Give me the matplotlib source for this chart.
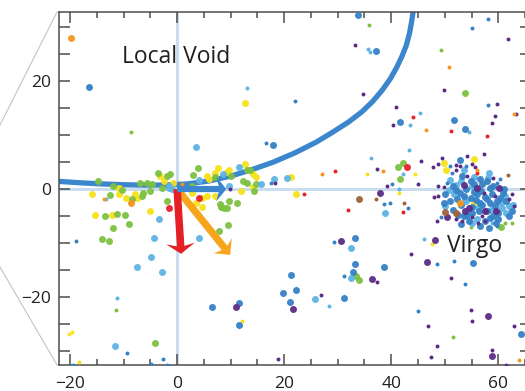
import matplotlib
matplotlib.use('Agg')
import matplotlib.pyplot as plt
from matplotlib.patches import FancyArrow
from matplotlib.lines import Line2D
from matplotlib.ticker import MultipleLocator

plt.rcParams['font.family'] = ['Open Sans', 'DejaVu Sans']

# galaxies (supergalactic x, y in Mpc), grouped by colour and marker size
yellow_big = [(12.7, 15.9), (49.9, 4.9), (50.3, 3.5), (55.4, 5.5), (55.4, -2.5),
              (-10.8, 0.2), (-3.2, 2.5), (-2.4, 1.4), (-0.7, 1.2), (-7.9, -0.9), (-7.5, -1.7),
              (-9.5, -1.7), (-10.8, -1.0), (-15.9, -1.0), (-5.0, -4.1), (-15.3, -4.8), (-12.2, -4.8),
              (5.6, 2.4), (7.7, 3.9), (7.0, 2.9), (9.3, 3.2), (9.7, 3.6), (12.6, 4.6), (14.1, 2.7),
              (14.8, 2.2), (14.1, 0.4), (21.3, 2.3), (22.2, -1.0), (12.0, -0.4), (7.1, -1.3),
              (5.6, -1.3), (4.6, -1.6), (3.5, -2.5), (4.6, -3.3), (2.7, -0.7), (5.9, 1.8)]
yellow_small = [(35.4, 2.7), (44.5, 2.8), (57.6, 1.2), (41.4, -0.8), (47.7, -10.1), (12.2, -24.4),
                (-20.1, -26.9), (-19.6, -26.5), (-18.3, -32.0)]

green_big = [(53.8, 17.8), (42.1, 4.9), (41.2, 4.1), (41.7, 1.9), (60.5, -7.0),
             (-14.7, 1.5), (-11.9, 0.6), (-10.2, -0.1), (-6.9, 1.1), (-5.7, 1.2), (-4.7, 0.9),
             (-3.5, 3.0), (-1.9, 2.4), (-1.3, 2.7), (-2.9, 0.2), (-5.0, -0.4), (-6.3, -0.7),
             (-6.5, -1.3), (-8.4, -1.9), (-12.5, -1.1), (-1.8, -2.3), (-13.5, -5.0), (-11.2, -4.7),
             (-9.7, -4.8), (-9.0, -6.4), (-11.9, -7.2), (-14.0, -9.3), (-12.7, -9.6), (-4.1, -28.5),
             (3.9, 3.9), (3.0, 2.6), (7.1, 2.2), (10.1, 2.5), (13.0, 3.5), (13.6, 3.6), (12.4, 1.5),
             (13.0, 1.2), (14.8, 0.9), (14.3, -0.4), (11.2, -2.5), (9.6, -2.2), (8.0, -2.8),
             (8.7, -3.5), (9.3, -3.5), (8.2, -3.3), (2.7, 0.6), (9.5, -6.7), (7.9, -7.8),
             (33.5, -16.2), (34.0, -16.8)]
green_small = [(-8.7, 10.6), (35.9, 30.4), (49.3, 25.7), (61.3, -6.2), (62.6, -6.2), (54.8, -7.0),
               (-11.5, -22.5), (51.5, -27.4)]

lightblue_big = [(58.3, 2.9), (55.4, 2.2), (51.0, 1.7), (50.7, -0.2), (53.8, -1.9), (50.1, -3.1),
                 (61.3, -1.3), (60.7, -3.5), (61.9, -3.1), (55.1, -6.2), (62.7, -3.0), (38.9, -4.5),
                 (32.4, -10.9), (52.0, 0.8), (58.0, 2.0), (56.0, -5.5), (60.5, -2.5), (54.0, -2.2),
                 (53.0, 1.5), (51.8, -1.0), (56.2, -3.5), (58.7, -3.8), (55.0, 0.5), (61.5, -4.5),
                 (53.5, 3.5),
                 (-1.6, 0.6), (-1.6, 0.2), (-1.0, 0.1), (-3.4, -5.6), (-4.4, -9.0),
                 (-4.9, -12.6), (-7.5, -14.4), (-2.9, -15.4), (-11.6, -29.1), (3.6, 7.8), (8.5, 2.7),
                 (11.6, 4.1), (15.7, 1.0), (18.1, 1.8), (20.5, 2.0), (9.6, 0.6), (4.0, 1.6),
                 (4.1, -9.0), (25.7, -20.4), (32.4, -16.5)]
lightblue_small = [(13.0, 18.8), (35.6, 25.9), (36.1, 25.3), (45.4, 14.0), (43.5, 11.8), (54.5, 10.6),
                   (43.4, 7.3), (36.2, 5.8), (42.2, 2.7), (41.4, 0.0), (46.2, -9.3), (58.8, -6.2),
                   (-13.3, -1.8), (-11.2, -20.2), (28.4, -21.7)]

blue_big = [(-16.4, 18.9), (33.7, 32.2), (37.2, 25.6), (41.7, 12.5), (51.8, 12.7), (53.8, 11.2),
            (17.9, 8.1), (33.3, -9.0), (38.6, -14.4), (33.3, -13.8), (55.3, -13.7), (6.6, -21.9),
            (11.6, -21.2), (11.5, -25.2), (21.3, -16.0), (19.8, -19.3), (22.2, -18.7), (21.1, -21.0),
            (31.2, -20.1), (32.8, -15.4), (64.2, -26.9),
            (52.8, 5.4), (53.2, 2.4), (54.8, 1.5), (52.0, -0.1), (52.9, -0.7), (57.0, 0.9),
            (58.5, 0.2), (56.0, -1.0), (54.8, -1.6), (52.3, -1.9), (51.0, -2.2), (51.6, -3.8),
            (56.6, -2.5), (57.9, -1.9), (60.4, -1.6), (59.4, -3.1), (57.9, -4.1), (56.3, -4.1),
            (55.1, -4.4), (53.5, -5.0), (58.5, -5.3), (58.2, -7.2), (53.0, -3.0), (54.0, 0.0),
            (55.5, -0.5), (57.0, -3.0), (58.5, -2.5), (59.0, 0.5), (60.0, -4.5), (56.5, 1.8),
            (55.0, -3.3), (57.5, -6.0), (61.0, 0.0), (59.0, -5.0), (54.5, -6.0), (62.0, -5.0),
            (50.0, -1.0), (51.5, 0.5), (52.5, -4.8), (53.5, -1.2), (55.8, -2.0), (56.8, -0.3),
            (57.5, -1.5), (58.8, -1.0), (59.8, -2.2), (60.8, -0.8), (61.5, -2.3), (59.5, -6.2),
            (56.5, -6.8), (53.0, -6.5), (55.5, 1.0), (57.8, 1.5), (60.0, -5.5), (62.5, -4.0),
            (49.8, -2.5), (54.2, -4.8)]
blue_small = [(22.0, 16.4), (55.1, 29.9), (58.1, 31.5), (58.1, 15.5), (40.1, 1.0), (38.6, -2.7),
              (39.8, -2.5), (43.2, -3.6), (48.6, -13.9), (51.8, -13.3), (16.6, 8.6), (17.6, 1.1),
              (31.2, -16.1), (29.3, -9.9), (45.0, -22.6), (53.7, -17.6), (-18.9, -9.6), (-9.3, -30.3),
              (-19.4, -32.6), (-2.6, -31.4), (-4.9, -32.5), (-1.9, -32.6), (51.0, 4.3), (54.0, 4.3),
              (60.4, 1.8), (51.3, 3.0), (50.4, 1.2), (59.8, 1.2), (49.2, -5.2), (59.8, -6.9)]

purple_big = [(37.9, -0.8), (30.7, -9.6), (48.1, -9.4), (46.7, -13.5), (11.0, -21.9), (21.6, -22.3),
              (36.4, -16.7), (58.1, -23.6), (58.8, -30.9), (53.5, 0.7), (56.0, 0.2), (60.1, 0.2),
              (53.8, -4.1), (50.4, -5.2), (57.5, -4.0), (54.5, -3.5), (59.5, -4.0)]
purple_small = [(33.3, 26.6), (34.8, 17.7), (40.9, 15.2), (40.4, 11.8), (61.8, 27.8), (49.9, 18.3),
                (59.8, 15.8), (59.4, 13.5), (63.3, 13.9), (58.9, 12.2), (37.3, 3.8), (45.5, 5.2),
                (45.0, 1.0), (39.2, 0.5), (43.6, -12.1), (18.3, 1.1), (9.9, 0.1), (26.9, -19.6),
                (37.3, -17.2), (46.9, -25.4), (48.5, -29.1), (47.5, -31.1), (18.8, -31.4), (51.2, -16.4),
                (54.8, -22.5), (55.0, -24.4), (58.9, -29.9), (61.4, -32.6), (62.9, -25.3),
                (49.5, 5.7), (47.8, 4.1), (48.7, 4.6), (52.0, 4.4), (52.9, 4.3), (54.1, 6.1),
                (55.1, 4.6), (55.7, 4.1), (59.0, 2.1), (52.1, 3.5), (54.1, 2.4), (49.8, 0.4),
                (48.8, 0.6), (48.8, -1.3), (47.9, -1.5), (57.3, -0.7), (59.4, -1.3), (61.9, -1.9),
                (62.9, -3.1), (56.9, -5.0), (48.5, -5.9), (52.0, -5.6), (53.2, -5.9), (55.1, -5.2),
                (57.6, -5.9), (56.2, -6.3), (57.3, 6.4), (62.6, -1.0)]

red_big = [(43.0, 4.1), (-1.6, -3.5), (4.0, -1.7)]
red_small = [(44.0, 13.4), (51.2, 10.8), (57.8, 9.8), (42.1, -4.3), (32.0, -3.8), (56.1, 3.0),
             (23.7, -1.0), (29.5, 3.3)]

orange_big = [(-19.9, 27.9), (52.8, -2.6), (-8.6, -2.6)]
orange_small = [(46.4, 10.9), (50.7, 22.7), (62.9, 13.9), (38.4, 3.3), (56.0, 3.5), (-13.6, -1.8),
                (0.9, 1.0), (63.9, -31.7), (27.0, 2.8)]

brown_big = [(33.9, -1.9), (50.1, -4.2), (52.0, -4.4)]
brown_small = [(37.2, -1.9), (42.3, -2.5), (61.8, 2.6)]

# Local Void boundary
void_x = [-22.5, -18.0, -14.0, -10.0, -6.0, -2.0, 2.0, 6.0, 10.0, 14.0, 18.0, 22.0, 26.0,
          29.0, 32.0, 34.5, 36.5, 38.3, 39.8, 41.0, 42.0, 42.8, 43.4, 43.8, 44.1, 44.3]
void_y = [1.45, 1.15, 0.95, 0.8, 0.72, 0.75, 0.95, 1.5, 2.4, 3.6, 5.0, 6.7, 8.7,
          10.5, 12.4, 14.3, 16.2, 18.3, 20.4, 22.5, 24.6, 26.6, 28.8, 31.0, 33.0, 35.0]

# velocity components (dx, dy)
v_void = (9.2, 0.0)
v_red = (0.75, -12.0)
v_orange = (9.9, -12.2)

groups = [
    (yellow_big, yellow_small, '#f6e21a'),
    (green_big, green_small, '#7dc142'),
    (lightblue_big, lightblue_small, '#5eb3e4'),
    (blue_big, blue_small, '#3481c5'),
    (purple_big, purple_small, '#5b2c86'),
    (red_big, red_small, '#e8202a'),
    (orange_big, orange_small, '#f7941d'),
    (brown_big, brown_small, '#a0613a'),
]

fig = plt.figure(figsize=(5.25, 3.91), dpi=100)
ax = fig.add_axes([59 / 525, 1 - 365 / 391, 472 / 525, 353 / 391])
ax.set_xlim(-22.06, 66.1)
ax.set_ylim(-32.6, 32.8)

ax.axhline(0, color='#c9dcf0', lw=2.2, zorder=1)
ax.axvline(0, color='#c9dcf0', lw=2.2, zorder=1)

ax.plot(void_x, void_y, color='#3b86cc', lw=3.8, solid_capstyle='butt',
        solid_joinstyle='round', zorder=2)

for big, small, col in groups:
    ax.scatter([p[0] for p in small], [p[1] for p in small], s=8, color=col,
               linewidths=0, zorder=3)
    ax.scatter([p[0] for p in big], [p[1] for p in big], s=25, color=col,
               linewidths=0, alpha=0.95, zorder=3)

ax.add_patch(FancyArrow(0, 0, v_orange[0], v_orange[1], width=1.35, head_width=4.4,
                        head_length=2.2, overhang=0.25, length_includes_head=True,
                        color='#f7a51c', lw=0, zorder=4))
ax.add_patch(FancyArrow(0, 0, v_red[0], v_red[1], width=1.4, head_width=5.3,
                        head_length=1.9, overhang=0.25, length_includes_head=True,
                        color='#e41f26', lw=0, zorder=5))
ax.add_patch(FancyArrow(0, 0, v_void[0], v_void[1], width=1.15, head_width=4.6,
                        head_length=1.9, overhang=0.25, length_includes_head=True,
                        color='#3b86cc', lw=0, zorder=5))

ax.text(-10.3, 23.3, 'Local Void', fontsize=16.5, color='#231f20', va='baseline', zorder=6)
ax.text(50.5, -11.7, 'Virgo', fontsize=16.5, color='#231f20', va='baseline', zorder=6)

ax.set_xticks([-20, 0, 20, 40, 60])
ax.set_yticks([-20, 0, 20])
ax.xaxis.set_minor_locator(MultipleLocator(5))
ax.yaxis.set_minor_locator(MultipleLocator(5))
ax.tick_params(which='both', direction='in', top=True, right=True, color='#4d4d4d',
               width=1.1, labelsize=12.5, labelcolor='#231f20')
ax.tick_params(axis='x', which='major', length=8, pad=8)
ax.tick_params(axis='x', which='minor', length=4)
ax.tick_params(axis='y', which='both', length=8, pad=6)
for sp in ax.spines.values():
    sp.set_color('#4d4d4d')
    sp.set_linewidth(1.1)

# connector lines toward the neighbouring panel
fig.add_artist(Line2D([57 / 525, 0], [1 - 12 / 391, 1 - 125 / 391], transform=fig.transFigure,
                      color='#c4c4c4', lw=0.8))
fig.add_artist(Line2D([57 / 525, 0], [1 - 365 / 391, 1 - 267 / 391], transform=fig.transFigure,
                      color='#c4c4c4', lw=0.8))

fig.savefig('out.png', dpi=100)
